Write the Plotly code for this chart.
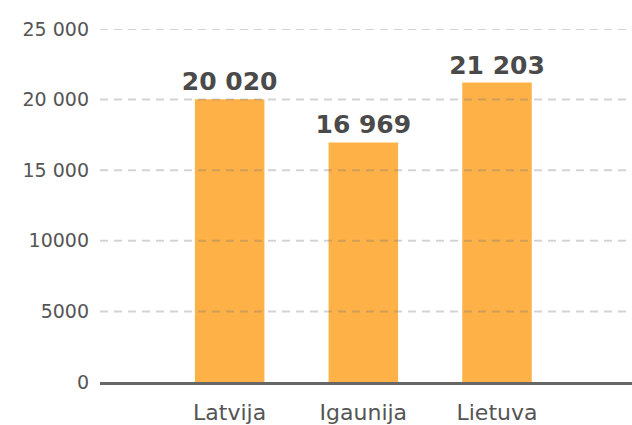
import plotly.graph_objects as go

categories = ["Latvija", "Igaunija", "Lietuva"]
values = [20020, 16969, 21203]
tick_vals = [0, 5000, 10000, 15000, 20000, 25000]
tick_text = ["0", "5000", "10000", "15 000", "20 000", "25 000"]

FONT = "DejaVu Sans"
fig = go.Figure()
fig.add_trace(go.Bar(
    x=categories, y=values, width=0.52,
    marker=dict(color="#FDB147", line=dict(width=0)),
    texttemplate="%{y:,}", textposition="outside", constraintext="none",
    textfont=dict(family=FONT, size=25, color="#4a4a4a", weight="bold"),
    cliponaxis=False, hoverinfo="skip",
))

for v in tick_vals[1:]:
    fig.add_shape(type="line", xref="paper", yref="y", x0=0, x1=1, y0=v, y1=v,
                  line=dict(color="rgba(120,120,120,0.33)", width=2, dash="8px,6px"),
                  layer="above")

fig.update_layout(
    width=632, height=425,
    margin=dict(l=100, r=0, t=29, b=41),
    paper_bgcolor="white", plot_bgcolor="white",
    separators=". ",
    showlegend=False,
    font=dict(family=FONT, color="#555555"),
    xaxis=dict(range=[-0.97, 3.01], showgrid=False, showline=True, linecolor="#666666",
               linewidth=2.5, ticks="", tickfont=dict(size=22, color="#555555"),
               ticklabelstandoff=9, fixedrange=True),
    yaxis=dict(range=[0, 25000], tickvals=tick_vals, ticktext=tick_text, showgrid=False,
               zeroline=False, showline=False, ticks="", tickfont=dict(size=19, color="#555555"),
               ticklabelstandoff=10, fixedrange=True),
)
fig.write_html("out.html", config={"displayModeBar": False},
               post_script="document.body.style.margin='0';document.body.style.overflow='hidden';")
